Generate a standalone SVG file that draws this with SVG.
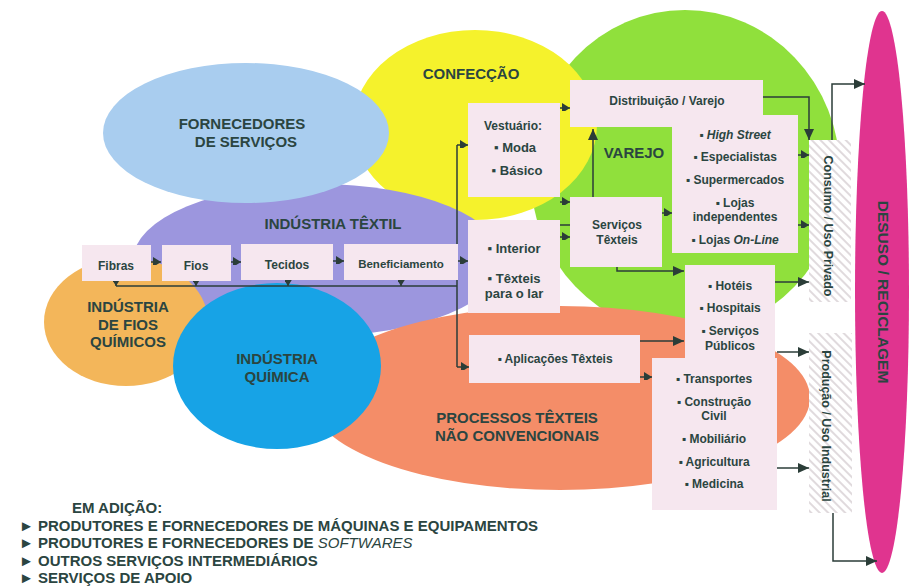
<svg xmlns="http://www.w3.org/2000/svg" width="911" height="588" viewBox="0 0 911 588">
<defs>
<style>
.t{font-family:"Liberation Sans",Arial,sans-serif;font-weight:bold;fill:#2b4541}
.b15{font-size:15px}
.b12{font-size:12px}
.m{text-anchor:middle}
.box{fill:#f6e7ef}
.ln{fill:none;stroke:#2b3d38;stroke-width:1.5}
.ar{marker-end:url(#ah)}
.as{marker-end:url(#ahs)}
</style>
<marker id="ah" markerUnits="userSpaceOnUse" markerWidth="11" markerHeight="10" refX="11" refY="5" orient="auto"><path d="M0,0 L11,5 L0,10 Z" fill="#2b3d38"/></marker>
<marker id="ahs" markerUnits="userSpaceOnUse" markerWidth="10" markerHeight="8" refX="8" refY="5" orient="auto"><path d="M0,0 L8,5 L0,10 Z" fill="#2b3d38"/></marker>
<pattern id="hatch" width="6" height="6" patternUnits="userSpaceOnUse" patternTransform="rotate(-45)"><rect width="6" height="6" fill="#ffffff"/><line x1="1" y1="0" x2="1" y2="6" stroke="#e0dadd" stroke-width="2"/></pattern>
</defs>
<rect width="911" height="588" fill="#ffffff"/>

<g id="areas">
<g id="varejo"><ellipse cx="685" cy="172" rx="155" ry="162" fill="#90e03c"/></g>
<g id="confeccao"><ellipse cx="475" cy="125" rx="122" ry="95" fill="#f5f22c"/></g>
<g id="industria-textil"><ellipse cx="318" cy="260" rx="185" ry="76" fill="#9c96de"/></g>
<g id="fornecedores"><ellipse cx="246" cy="133" rx="143" ry="70" fill="#a9cdef"/></g>
<g id="processos"><ellipse cx="560" cy="398" rx="250" ry="92" fill="#f48d68"/></g>
<g id="fios-quimicos"><ellipse cx="126" cy="322" rx="82" ry="64" fill="#f3b65a"/></g>
<g id="quimica"><ellipse cx="277" cy="366" rx="104" ry="83" fill="#17a3e6"/></g>
<g id="desuso"><ellipse cx="882" cy="292" rx="27" ry="281" fill="#e0348f"/></g>
</g>

<g id="area-labels">
<text class="t b15 m" x="242" y="129">FORNECEDORES</text>
<text class="t b15 m" x="246" y="147">DE SERVIÇOS</text>
<text class="t b15 m" x="471" y="79">CONFECÇÃO</text>
<text class="t b15 m" x="333" y="229">INDÚSTRIA TÊXTIL</text>
<text class="t b15 m" x="634" y="158">VAREJO</text>
<text class="t b15 m" x="128" y="312">INDÚSTRIA</text>
<text class="t b15 m" x="128" y="330">DE FIOS</text>
<text class="t b15 m" x="128" y="347">QUÍMICOS</text>
<text class="t b15 m" x="277" y="364" font-size="14.5">INDÚSTRIA</text>
<text class="t b15 m" x="277" y="382" font-size="14.5">QUÍMICA</text>
<text class="t b15 m" x="517" y="423">PROCESSOS TÊXTEIS</text>
<text class="t b15 m" x="517" y="441">NÃO CONVENCIONAIS</text>
<text class="t m" font-size="15.5" transform="translate(883,292) rotate(90)" y="5">DESUSO / RECICLAGEM</text>
</g>

<g id="connectors">
<line class="ln as" x1="151" y1="262" x2="161" y2="262"/>
<line class="ln as" x1="231" y1="262" x2="241" y2="262"/>
<line class="ln as" x1="333" y1="261" x2="344" y2="261"/>
<line class="ln as" x1="458" y1="261" x2="468" y2="261"/>
<line class="ln as" x1="116" y1="279" x2="116" y2="286"/>
<line class="ln as" x1="196" y1="279" x2="196" y2="286"/>
<line class="ln as" x1="288" y1="278" x2="288" y2="286"/>
<line class="ln as" x1="401" y1="278" x2="401" y2="286"/>
<polyline class="ln" points="116,286 457,286"/>
<polyline class="ln" points="457,145 457,367"/>
<line class="ln as" x1="457" y1="145" x2="468" y2="145"/>
<line class="ln as" x1="457" y1="367" x2="469" y2="367"/>
<line class="ln as" x1="560" y1="108" x2="570" y2="108"/>
<line class="ln as" x1="560" y1="202" x2="570" y2="202"/>
<line class="ln" x1="560" y1="225" x2="570" y2="225"/>
<line class="ln as" x1="560" y1="237" x2="570" y2="237"/>
<line class="ln ar" x1="593" y1="197" x2="593" y2="129"/>
<line class="ln as" x1="662" y1="213" x2="672" y2="213"/>
<polyline class="ln ar" points="617,262 617,271 684,271"/>
<polyline class="ln ar" points="763,97 809,97 809,140"/>
<line class="ln as" x1="798" y1="155" x2="809" y2="155"/>
<line class="ln as" x1="798" y1="225" x2="809" y2="225"/>
<line class="ln ar" x1="775" y1="282" x2="809" y2="282"/>
<line class="ln ar" x1="640" y1="341" x2="684" y2="341"/>
<line class="ln as" x1="640" y1="377" x2="652" y2="377"/>
<line class="ln ar" x1="777" y1="352" x2="809" y2="352"/>
<line class="ln ar" x1="777" y1="468" x2="809" y2="468"/>
<polyline class="ln ar" points="832,140 832,84 865,84"/>
<polyline class="ln ar" points="833,513 833,561 877,561"/>
</g>

<g id="n-fibras"><rect class="box" x="82" y="245" width="69" height="36"/><text class="t b12 m" x="116" y="270">Fibras</text></g>
<g id="n-fios"><rect class="box" x="162" y="245" width="69" height="36"/><text class="t b12 m" x="196" y="270">Fios</text></g>
<g id="n-tecidos"><rect class="box" x="241" y="244" width="92" height="36"/><text class="t b12 m" x="287" y="269">Tecidos</text></g>
<g id="n-beneficiamento"><rect class="box" x="344" y="244" width="114" height="36"/><text class="t m" font-size="11.5" x="401" y="268">Beneficiamento</text></g>

<g id="n-vestuario"><rect class="box" x="468" y="103" width="92" height="94"/>
<text class="t b12 m" x="513" y="130">Vestuário:</text>
<text class="t m" font-size="13" x="515" y="152">▪ Moda</text>
<text class="t m" font-size="13" x="517" y="175">▪ Básico</text></g>

<g id="n-interior"><rect class="box" x="468" y="220" width="92" height="93"/>
<text class="t m" font-size="13" x="514" y="253">▪ Interior</text>
<text class="t m" font-size="13" x="514" y="283">▪ Têxteis</text>
<text class="t m" font-size="13" x="514" y="298">para o lar</text></g>

<g id="n-aplicacoes"><rect class="box" x="469" y="335" width="171" height="48"/>
<text class="t b12 m" x="555" y="363">▪ Aplicações Têxteis</text></g>

<g id="n-distribuicao"><rect class="box" x="570" y="80" width="193" height="47"/>
<text class="t b12 m" x="667" y="105">Distribuição / Varejo</text></g>

<g id="n-servicos"><rect class="box" x="570" y="197" width="92" height="70"/>
<text class="t b12 m" x="617" y="229">Serviços</text>
<text class="t b12 m" x="617" y="244">Têxteis</text></g>

<g id="n-lojas"><rect class="box" x="672" y="115" width="126" height="138"/>
<text class="t b12 m" x="735" y="139">▪ <tspan font-style="italic">High Street</tspan></text>
<text class="t b12 m" x="735" y="161">▪ Especialistas</text>
<text class="t b12 m" x="735" y="184">▪ Supermercados</text>
<text class="t b12 m" x="735" y="207">▪ Lojas</text>
<text class="t b12 m" x="735" y="221">independentes</text>
<text class="t b12 m" x="735" y="244">▪ Lojas <tspan font-style="italic">On-Line</tspan></text></g>

<g id="n-hoteis"><rect class="box" x="685" y="265" width="90" height="94"/><rect class="box" x="652" y="358" width="125" height="152"/>
<text class="t b12 m" x="730" y="290">▪ Hotéis</text>
<text class="t b12 m" x="730" y="312">▪ Hospitais</text>
<text class="t b12 m" x="730" y="335">▪ Serviços</text>
<text class="t b12 m" x="730" y="350">Públicos</text>
<text class="t b12 m" x="714" y="383">▪ Transportes</text>
<text class="t b12 m" x="714" y="406">▪ Construção</text>
<text class="t b12 m" x="714" y="420">Civil</text>
<text class="t b12 m" x="714" y="443">▪ Mobiliário</text>
<text class="t b12 m" x="714" y="466">▪ Agricultura</text>
<text class="t b12 m" x="714" y="488">▪ Medicina</text></g>

<g id="n-consumo"><rect x="809" y="140" width="42" height="162" fill="url(#hatch)"/>
<text class="t m" font-size="12.5" transform="translate(828,226) rotate(90)" y="4">Consumo / Uso Privado</text></g>

<g id="n-producao"><rect x="809" y="333" width="43" height="180" fill="url(#hatch)"/>
<text class="t m" font-size="12.5" transform="translate(826,426) rotate(90)" y="4">Produção / Uso Industrial</text></g>

<g id="em-adicao">
<text class="t b15" x="72" y="513">EM ADIÇÃO:</text>
<text class="t b15" x="19" y="531">► PRODUTORES E FORNECEDORES DE MÁQUINAS E EQUIPAMENTOS</text>
<text class="t b15" x="19" y="548">► PRODUTORES E FORNECEDORES DE <tspan font-style="italic" font-weight="normal">SOFTWARES</tspan></text>
<text class="t b15" x="19" y="566">► OUTROS SERVIÇOS INTERMEDIÁRIOS</text>
<text class="t b15" x="19" y="583">► SERVIÇOS DE APOIO</text>
</g>
</svg>
